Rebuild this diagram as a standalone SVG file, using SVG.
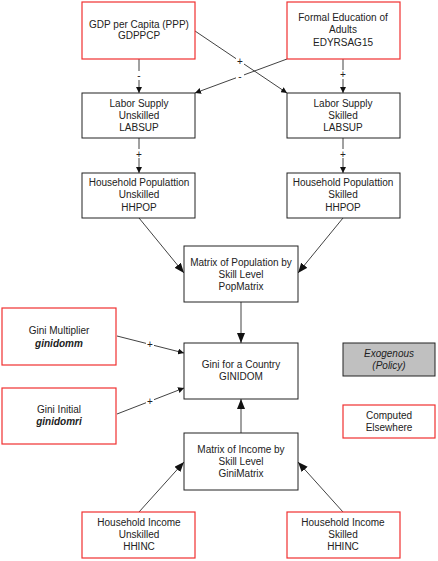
<svg xmlns="http://www.w3.org/2000/svg" width="438" height="561" viewBox="0 0 438 561">
<defs>
<style>
.box{fill:#fff;stroke:#222;stroke-width:1}
.red{fill:#fff;stroke:#f03030;stroke-width:1.2}
.exo{fill:#c0c0c0;stroke:#222;stroke-width:1}
text{font-family:"Liberation Sans",Arial,sans-serif;font-size:10px;fill:#222;text-anchor:middle}
.it{font-style:italic}
.bi{font-style:italic;font-weight:bold}
.ln{stroke:#111;stroke-width:0.8;fill:none}
.lb{font-size:10px}
.bg{fill:#fff}
</style>
<marker id="sm" markerWidth="7" markerHeight="6" refX="6" refY="3" orient="auto" markerUnits="userSpaceOnUse"><path d="M0,0 L6,3 L0,6 z" fill="#111"/></marker>
<marker id="lg" markerWidth="11" markerHeight="9" refX="10" refY="4" orient="auto" markerUnits="userSpaceOnUse"><path d="M0,0 L10,4 L0,8 z" fill="#111"/></marker>
</defs>
<g id="connectors">
<line class="ln" x1="139" y1="59" x2="139" y2="93" marker-end="url(#sm)"/>
<rect class="bg" x="135" y="71" width="8" height="9"/><text class="lb" x="139" y="79">-</text>
<line class="ln" x1="195" y1="31" x2="287" y2="93" marker-end="url(#sm)"/>
<line class="ln" x1="287" y1="59" x2="195" y2="93" marker-end="url(#sm)"/>
<rect class="bg" x="236" y="56" width="8" height="9"/><text class="lb" x="240" y="64.5">+</text>
<rect class="bg" x="236" y="72" width="8" height="8"/><text class="lb" x="240" y="79.5">-</text>
<line class="ln" x1="343" y1="59" x2="343" y2="93" marker-end="url(#sm)"/>
<rect class="bg" x="339" y="70" width="8" height="9"/><text class="lb" x="343" y="78">+</text>
<line class="ln" x1="139" y1="138" x2="139" y2="173" marker-end="url(#sm)"/>
<rect class="bg" x="135" y="149" width="8" height="9"/><text class="lb" x="139" y="157.5">+</text>
<line class="ln" x1="343" y1="138" x2="343" y2="173" marker-end="url(#sm)"/>
<rect class="bg" x="339" y="149" width="8" height="9"/><text class="lb" x="343" y="157.5">+</text>
<line class="ln" x1="139" y1="218" x2="184" y2="273" marker-end="url(#lg)"/>
<line class="ln" x1="343" y1="218" x2="298" y2="273" marker-end="url(#lg)"/>
<line class="ln" x1="241" y1="302" x2="241" y2="343" marker-end="url(#lg)"/>
<line class="ln" x1="117" y1="336" x2="184" y2="353" marker-end="url(#sm)"/>
<rect class="bg" x="146" y="339" width="8" height="9"/><text class="lb" x="150" y="347.5">+</text>
<line class="ln" x1="117" y1="414" x2="184" y2="388" marker-end="url(#sm)"/>
<rect class="bg" x="146" y="396" width="8" height="9"/><text class="lb" x="150" y="404.5">+</text>
<line class="ln" x1="241" y1="433" x2="241" y2="399" marker-end="url(#lg)"/>
<line class="ln" x1="139" y1="512" x2="184" y2="462" marker-end="url(#lg)"/>
<line class="ln" x1="343" y1="512" x2="298" y2="462" marker-end="url(#lg)"/>
</g>
<g id="gdp"><rect class="red" x="82" y="2" width="113" height="57"/><text x="139" y="27.5">GDP per Capita (PPP)</text><text x="139" y="39">GDPPCP</text></g>
<g id="edu"><rect class="red" x="287" y="2" width="113" height="57"/><text x="343" y="21">Formal Education of</text><text x="343" y="33">Adults</text><text x="343" y="45.5">EDYRSAG15</text></g>
<g id="labsup-u"><rect class="box" x="82" y="93" width="113" height="45"/><text x="139" y="106.5">Labor Supply</text><text x="139" y="118.5">Unskilled</text><text x="139" y="130.5">LABSUP</text></g>
<g id="labsup-s"><rect class="box" x="287" y="93" width="113" height="45"/><text x="343" y="106.5">Labor Supply</text><text x="343" y="118.5">Skilled</text><text x="343" y="130.5">LABSUP</text></g>
<g id="hhpop-u"><rect class="box" x="82" y="173" width="113" height="45"/><text x="139" y="185.5">Household Populattion</text><text x="139" y="198">Unskilled</text><text x="139" y="210.5">HHPOP</text></g>
<g id="hhpop-s"><rect class="box" x="287" y="173" width="113" height="45"/><text x="343" y="185.5">Household Populattion</text><text x="343" y="198">Skilled</text><text x="343" y="210.5">HHPOP</text></g>
<g id="popmatrix"><rect class="box" x="184" y="246" width="114" height="56"/><text x="241" y="265.5">Matrix of Population by</text><text x="241" y="277.5">Skill Level</text><text x="241" y="289.5">PopMatrix</text></g>
<g id="ginimult"><rect class="red" x="2" y="308" width="114" height="57"/><text x="59" y="333.5">Gini Multiplier</text><text class="bi" x="59" y="346.5">ginidomm</text></g>
<g id="ginidom"><rect class="box" x="184" y="343" width="114" height="56"/><text x="241" y="367.5">Gini for a Country</text><text x="241" y="379.5">GINIDOM</text></g>
<g id="giniinit"><rect class="red" x="2" y="388" width="114" height="56"/><text x="59" y="412.5">Gini Initial</text><text class="bi" x="59" y="424.5">ginidomri</text></g>
<g id="legend-exo"><rect class="exo" x="343" y="343" width="92" height="33"/><text class="it" x="389" y="356.5">Exogenous</text><text class="it" x="389" y="368.5">(Policy)</text></g>
<g id="legend-comp"><rect class="red" x="343" y="405" width="92" height="33"/><text x="389" y="418.5">Computed</text><text x="389" y="430.5">Elsewhere</text></g>
<g id="ginimatrix"><rect class="box" x="184" y="433" width="114" height="57"/><text x="241" y="452.5">Matrix of Income by</text><text x="241" y="464.5">Skill Level</text><text x="241" y="476.5">GiniMatrix</text></g>
<g id="hhinc-u"><rect class="red" x="82" y="512" width="113" height="46"/><text x="139" y="525.5">Household Income</text><text x="139" y="537.5">Unskilled</text><text x="139" y="549.5">HHINC</text></g>
<g id="hhinc-s"><rect class="red" x="287" y="512" width="113" height="46"/><text x="343" y="525.5">Household Income</text><text x="343" y="537.5">Skilled</text><text x="343" y="549.5">HHINC</text></g>
</svg>
